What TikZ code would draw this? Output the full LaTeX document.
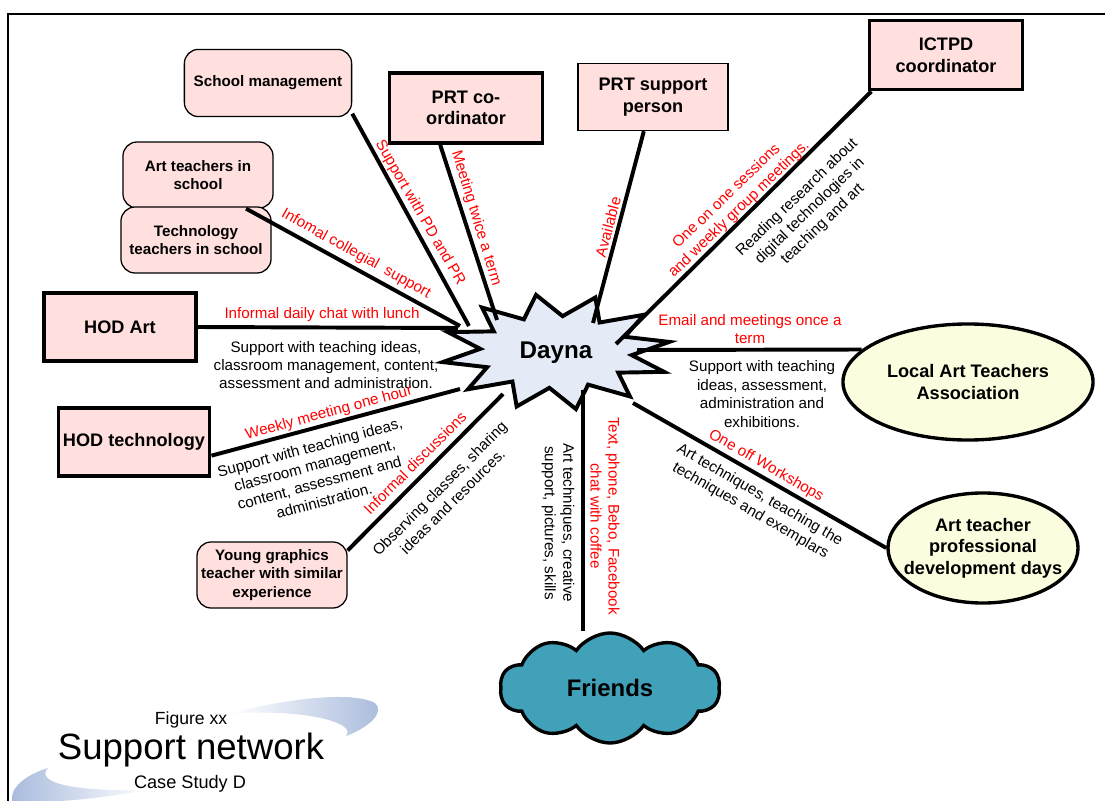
\documentclass[tikz,border=0pt]{standalone}
\usepackage{fontspec}
\setmainfont{Liberation Sans}
\usetikzlibrary{shapes.geometric,shapes.symbols}

\definecolor{boxpink}{RGB}{255,224,222}
\definecolor{burstblue}{RGB}{228,235,247}
\definecolor{ovalyellow}{RGB}{252,253,222}
\definecolor{cloudteal}{RGB}{64,161,185}
\definecolor{swoosh}{RGB}{168,186,220}

\tikzset{
  person/.style={draw, line width=0.9pt, fill=boxpink, rounded corners=10pt, align=center,
    font=\bfseries\fontsize{10.8}{13}\selectfont, minimum width=3.75cm, minimum height=1.65cm, inner sep=1pt},
  role/.style={draw, line width=2.6pt, fill=boxpink, align=center,
    font=\bfseries\fontsize{12.9}{15.4}\selectfont, minimum width=3.8cm, minimum height=1.7cm, inner sep=1pt},
  thinrole/.style={role, line width=0.9pt},
  group/.style={ellipse, draw, line width=2.4pt, fill=ovalyellow, align=center,
    font=\bfseries\fontsize{12.9}{15.4}\selectfont, inner sep=0pt},
  link/.style={line width=2.8pt},
  redlbl/.style={text=red, align=center, font=\fontsize{10.8}{12.8}\selectfont, inner sep=0pt},
  blacklbl/.style={align=center, font=\fontsize{10.8}{13.1}\selectfont, inner sep=0pt}
}

\begin{document}
\begin{tikzpicture}[x=0.025cm, y=-0.025cm]
 \useasboundingbox (0,0) rectangle (1105,801);
 % frame
 \draw [line width=1pt] (8,801) -- (8,14) -- (1105,14);

 % title with swooshes
 \shade [left color=white, right color=swoosh] (228,714) .. controls (280,700) and (350,690) .. (375,703)
   .. controls (385,712) and (370,727) .. (346,736) .. controls (358,722) and (300,708) .. (228,714) -- cycle;
 \shade [left color=swoosh, right color=white] (12,801) .. controls (10,788) and (25,775) .. (48,768)
   .. controls (35,782) and (70,792) .. (150,790) .. controls (100,798) and (70,801) .. (55,801) -- cycle;
 \node [font=\fontsize{12.5}{15}\selectfont] (figno) at (191,720) {Figure xx};
 \node [font=\fontsize{26}{30}\selectfont] (title) at (191,750) {Support network};
 \node [font=\fontsize{12.9}{15}\selectfont] (casestudy) at (190,784) {Case Study D};

 % people and groups
 \node [person, minimum width=4.18cm, minimum height=1.68cm] (mgmt) at (268,83) {School management};
 \node [role, minimum width=3.83cm, minimum height=1.75cm] (prtco) at (466,108) {PRT co-\\ordinator};
 \node [thinrole, minimum width=3.75cm, minimum height=1.68cm] (prtsup) at (653,97) {PRT support\\person};
 \node [role, minimum width=3.83cm, minimum height=1.73cm] (ictpd) at (946,55) {ICTPD\\coordinator};
 \node [person] (arts) at (198,175) {Art teachers in\\school};
 \node [person] (tech) at (196,240) {Technology\\teachers in school};
 \node [role] (hodart) at (120,327) {HOD Art};
 \node [role, minimum width=3.78cm] (hodtech) at (134,442) {HOD technology};
 \node [person] (young) at (272,575) {Young graphics\\teacher with similar\\experience};
 \node [group, minimum width=6.25cm, minimum height=2.9cm] (local) at (968,382) {Local Art Teachers\\Association};
 \node [group, inner xsep=-0.4cm, minimum width=4.75cm, minimum height=2.75cm] (pdays) at (983,548) {Art teacher\\professional\\development days};
 \node [cloud, cloud puffs=10, cloud puff arc=110, aspect=2, draw, line width=2.4pt, fill=cloudteal,
   minimum width=5.5cm, minimum height=2.75cm, font=\bfseries\fontsize{17}{20}\selectfont] (friends) at (610,688) {Friends};

 % burst round Dayna
 \draw [line width=2.8pt, fill=burstblue, shift={(556,352)}] ({115*cos(20)},{58*sin(20)})
   \foreach \k in {0,...,11} { -- ({76*cos(35+30*\k)},{36*sin(35+30*\k)}) -- ({115*cos(50+30*\k)},{58*sin(50+30*\k)}) } -- cycle;

 % ends of the links at the burst
 \coordinate (dmgmt) at (469,326);
 \coordinate (dprtco) at (497,320);
 \coordinate (dprtsup) at (593,323);
 \coordinate (dictpd) at (616,344);
 \coordinate (darts) at (460,326);
 \coordinate (dhodart) at (458,328);
 \coordinate (dhodtech) at (460,389);
 \coordinate (dyoung) at (503,394);
 \coordinate (dlocal) at (637,350);
 \coordinate (dpdays) at (633,403);
 \coordinate (dfriends) at (583,390);

 \draw [link] (mgmt.-20) -- (dmgmt);
 \draw [link] (prtco.-125) -- (dprtco);
 \draw [link] (prtsup.-105) -- (dprtsup);
 \draw [link] (ictpd.-154) -- (dictpd);
 \draw [link] (arts.-35) -- (darts);
 \draw [link] (hodart.east) -- (dhodart);
 \draw [link] (hodtech.-10) -- (dhodtech);
 \draw [link] (young.18) -- (dyoung);
 \draw [link] (dlocal) -- (local.163);
 \draw [link] (dpdays) -- (pdays.west);
 \draw [link] (dfriends) -- (dfriends |- friends.north);

 \node [font=\bfseries\fontsize{17.2}{20}\selectfont] (dayna) at (556,353) {Dayna};

 % labels on the links
 \node [redlbl, rotate=-60] (lblpdpr) at (420,213) {Support with PD and PR};
 \node [redlbl, rotate=-73] (lbltwice) at (476,218) {Meeting twice a term};
 \node [redlbl, rotate=-29] (lblcollegial) at (356,254) {Infomal collegial~ support};
 \node [redlbl] (lbllunch) at (322,315) {Informal daily chat with lunch};
 \node [blacklbl] (lblhodart) at (326,365) {Support with teaching ideas,\\classroom management, content,\\assessment and administration.};
 \node [redlbl, rotate=15] (lblweekly) at (329,413) {Weekly meeting one hour};
 \node [blacklbl, rotate=15] (lblhodtech) at (317,474) {Support with teaching ideas,\\classroom management,\\content, assessment and\\administration.};
 \node [redlbl, rotate=45] (lbldisc) at (415,463) {Informal discussions};
 \node [blacklbl, rotate=45] (lblobserve) at (446,495) {Observing classes, sharing\\ideas and resources.};
 \node [redlbl, rotate=75] (lblavail) at (608,227) {Available};
 \node [redlbl, rotate=44] (lblsessions) at (733,203) {One on one sessions\\and weekly group meetings.};
 \node [blacklbl, rotate=44] (lblreading) at (810,211) {Reading research about\\digital technologies in\\teaching and art};
 \node [redlbl] (lblemail) at (750,329) {Email and meetings once a\\term};
 \node [blacklbl] (lbllocal) at (762,394) {Support with teaching\\ideas, assessment,\\administration and\\exhibitions.};
 \node [redlbl, rotate=-30] (lblworkshops) at (766,466) {One off Workshops};
 \node [blacklbl, rotate=-30] (lblexemplars) at (755,503) {Art techniques, teaching the\\techniques and exemplars};
 \node [redlbl, rotate=-90] (lbltext) at (605,516) {Text, phone, Bebo, Facebook\\chat with coffee};
 \node [blacklbl, rotate=-90] (lblcreative) at (558,523) {Art techniques, creative\\support, pictures, skills};
\end{tikzpicture}
\end{document}
